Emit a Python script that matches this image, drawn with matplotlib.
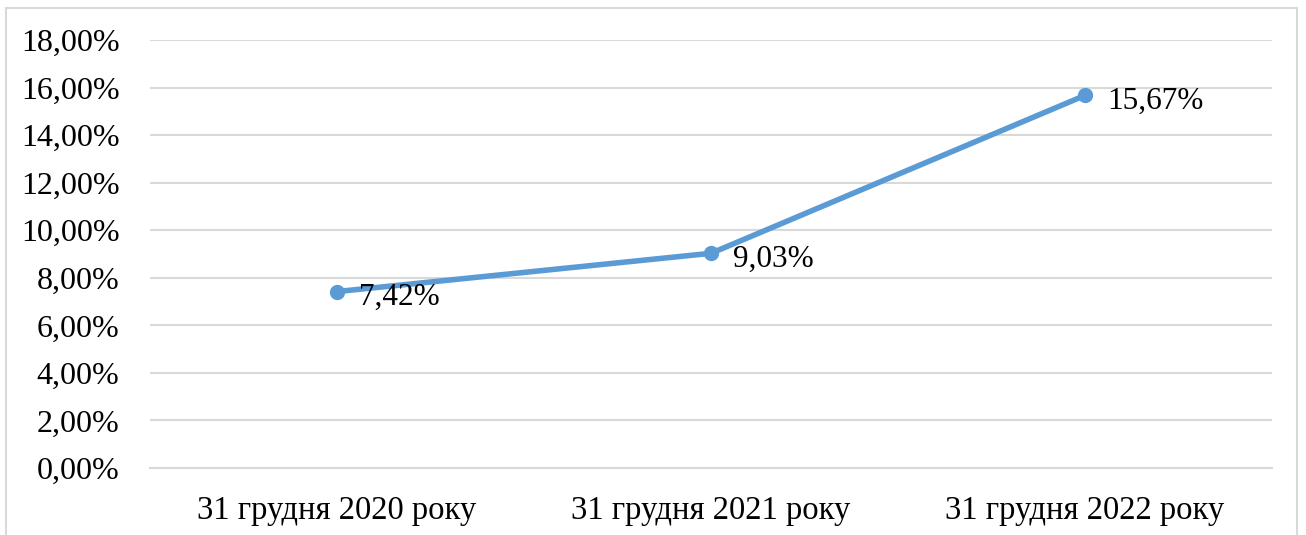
import matplotlib
matplotlib.use('Agg')
from matplotlib import pyplot as plt
from matplotlib.patches import Rectangle
from matplotlib.ticker import FuncFormatter

# values
categories = ['31 грудня 2020 року', '31 грудня 2021 року', '31 грудня 2022 року']
values = [0.0742, 0.0903, 0.1567]
labels = ['7,42%', '9,03%', '15,67%']

plt.rcParams['font.family'] = ['Liberation Serif', 'DejaVu Serif']

fig = plt.figure(figsize=(13.06, 5.35), dpi=100)
ax = fig.add_axes([150/1306, 1 - 468/535, 1122/1306, 428/535])

# light border round the whole chart
fig.patches.append(Rectangle((6/1306, -0.05), 1291/1306, 1.05 - 8/535,
                             transform=fig.transFigure, fill=False,
                             edgecolor='#D9D9D9', linewidth=1.5))

x = list(range(len(categories)))
ax.plot(x, values, color='#5B9BD5', linewidth=4, marker='o', markersize=10,
        solid_capstyle='round', zorder=3)
for xi, v, lab in zip(x, values, labels):
    ax.annotate(lab, (xi, v), xytext=(16, -4), textcoords='offset points',
                ha='left', va='center', fontsize=22.5, color='black')

ax.set_xlim(-0.5, 2.5)
ax.set_ylim(0, 0.18)
ax.set_yticks([i * 0.02 for i in range(10)])
ax.yaxis.set_major_formatter(FuncFormatter(lambda v, p: ('%.2f' % (v * 100)).replace('.', ',') + '%'))
ax.set_xticks(x)
ax.set_xticklabels(categories)
ax.tick_params(axis='both', length=0, colors='black')
ax.tick_params(axis='y', pad=22, labelsize=23)
ax.tick_params(axis='x', pad=20, labelsize=23.5)
ax.grid(axis='y', color='#D9D9D9', linewidth=1.5)
ax.set_axisbelow(True)
for s in ['top', 'right', 'left']:
    ax.spines[s].set_visible(False)
ax.spines['bottom'].set_color('#D9D9D9')
ax.spines['bottom'].set_linewidth(1.5)

fig.savefig('out.png', dpi=100)
